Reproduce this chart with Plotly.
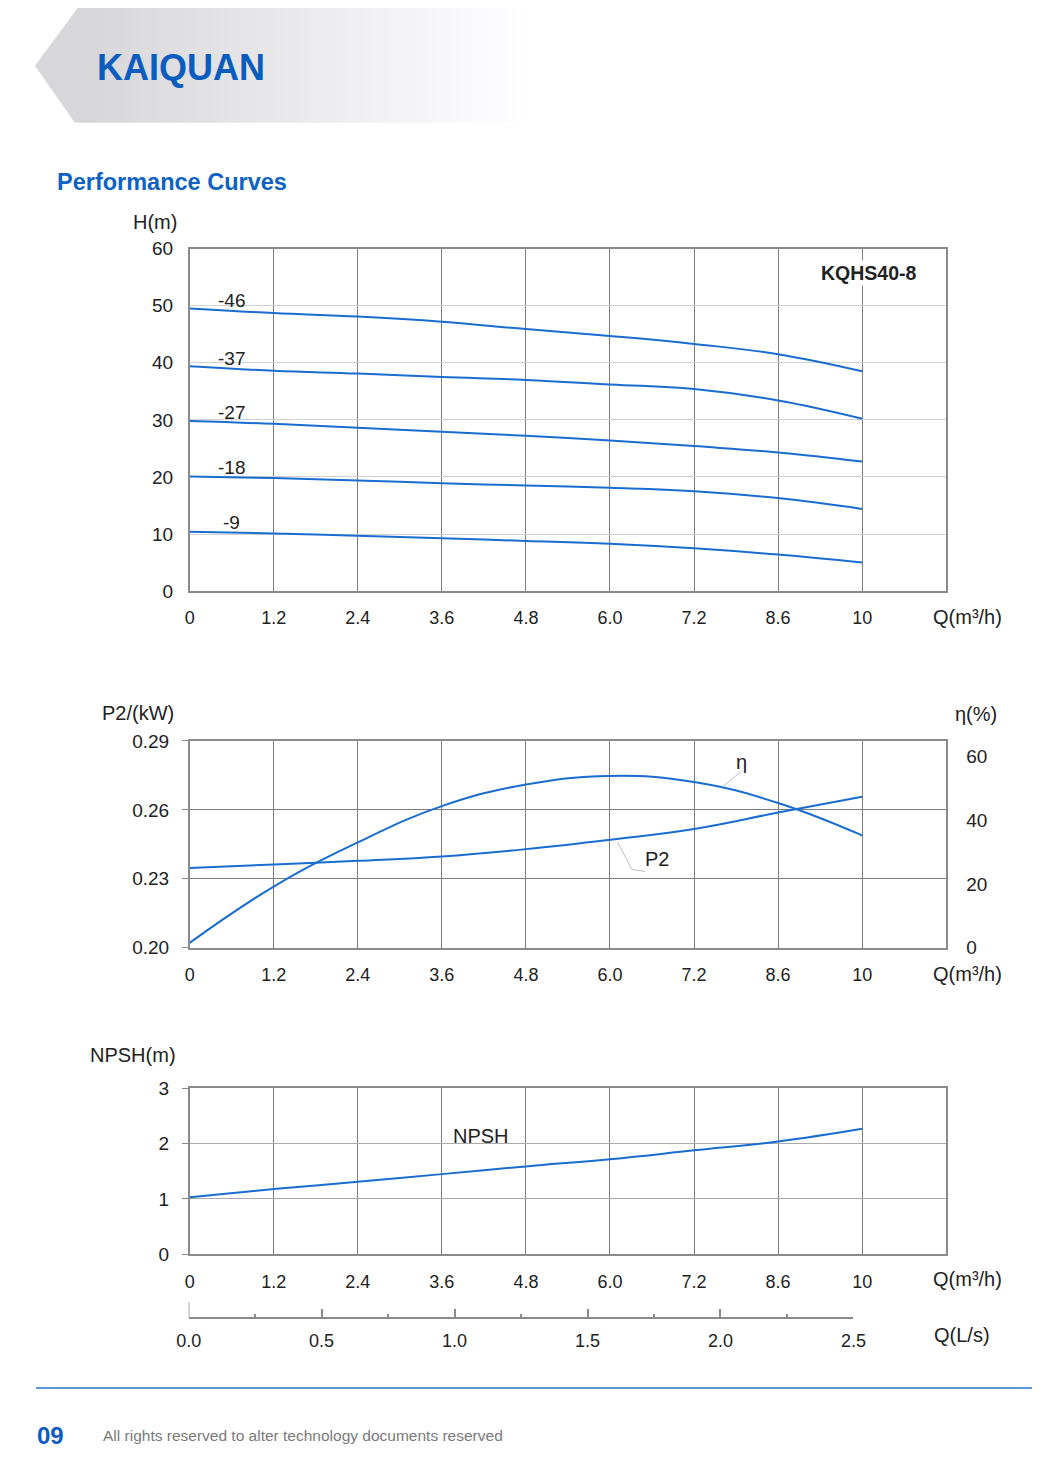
import plotly.graph_objects as go
from plotly.subplots import make_subplots

# figure size (the page body keeps its default margin)
W, H = 1045, 1467
# measured: shot pixel = offset + scale * figure pixel, so positions read off the
# sheet are mapped back through this before use
OX, SX = 20.0, 0.977
OY, SY = 17.1, 0.987

# flow grid Q (m3/h) - drawn at equal spacing on the sheet
q_labels = ["0", "1.2", "2.4", "3.6", "4.8", "6.0", "7.2", "8.6", "10"]

# H(m) curves for each impeller trim
head_names = ["-46", "-37", "-27", "-18", "-9"]
head_46 = [49.5, 48.7, 48.1, 47.2, 45.9, 44.7, 43.3, 41.5, 38.5]
head_37 = [39.4, 38.6, 38.1, 37.5, 37.0, 36.2, 35.4, 33.4, 30.2]
head_27 = [29.8, 29.3, 28.6, 27.9, 27.2, 26.4, 25.4, 24.3, 22.7]
head_18 = [20.1, 19.8, 19.4, 18.9, 18.5, 18.1, 17.5, 16.3, 14.4]
head_9 = [10.4, 10.1, 9.7, 9.25, 8.8, 8.3, 7.5, 6.4, 5.0]

# power and efficiency
p2_kw = [0.2347, 0.2362, 0.2378, 0.2397, 0.2429, 0.2470, 0.2517, 0.2588, 0.2657]
p2_ticks = [0.20, 0.23, 0.26, 0.29]
eta_pct = [1.5, 19.2, 33.1, 44.5, 51.3, 54.0, 52.1, 45.5, 35.3]
eta_ticks = [0, 20, 40, 60]

# NPSH
npsh_m = [1.03, 1.18, 1.31, 1.45, 1.59, 1.72, 1.88, 2.04, 2.27]

# second flow scale Q (L/s)
ls_ticks = [0.0, 0.5, 1.0, 1.5, 2.0, 2.5]

BLUE = "#1a6dd0"
GRID = "#7d7d7d"
FRAME = "#8a8a8a"
TXT = "#222222"
FONT = "Liberation Sans, Arial, sans-serif"


def pxx(x):
    return ((x - OX) / SX) / W


def pxy(y):
    return 1 - ((y - OY) / SY) / H


def page_text(text, x, y, size=20, color=TXT, bold=False, xanchor="center"):
    if bold:
        text = "<b>" + text + "</b>"
    return dict(text=text, x=pxx(x), y=pxy(y), xref="paper", yref="paper", showarrow=False,
                xanchor=xanchor, yanchor="middle",
                font=dict(family=FONT, size=size, color=color))


fig = make_subplots(rows=3, cols=1, specs=[[{}], [{"secondary_y": True}], [{}]])

line = dict(color=BLUE, width=2, shape="spline", smoothing=1.2)
heads = [head_46, head_37, head_27, head_18, head_9]
for name, vals in zip(head_names, heads):
    fig.add_trace(go.Scatter(x=q_labels, y=vals, mode="lines", line=line, name=name,
                             showlegend=False, hoverinfo="skip"), row=1, col=1)

fig.add_trace(go.Scatter(x=q_labels, y=p2_kw, mode="lines", line=line, name="P2",
                         showlegend=False), row=2, col=1, secondary_y=False)
fig.add_trace(go.Scatter(x=q_labels, y=eta_pct, mode="lines", line=line, name="η",
                         showlegend=False), row=2, col=1, secondary_y=True)

fig.add_trace(go.Scatter(x=q_labels, y=npsh_m, mode="lines", line=line, name="NPSH",
                         showlegend=False), row=3, col=1)

# dummy trace carrying the L/s scale
fig.add_trace(go.Scatter(x=ls_ticks, y=[0] * len(ls_ticks), xaxis="x4", yaxis="y5",
                         mode="markers", marker=dict(opacity=0), hoverinfo="skip",
                         showlegend=False))

xdom = [pxx(189), pxx(947)]
xcommon = dict(type="category", categoryorder="array", categoryarray=q_labels,
               range=[0, 9], domain=xdom, showgrid=True, gridcolor=GRID, gridwidth=1,
               showline=True, mirror=True, linecolor=FRAME, linewidth=1.5, ticks="",
               ticklabelstandoff=10, zeroline=False,
               tickfont=dict(family=FONT, size=18, color=TXT))
ycommon = dict(showline=True, mirror=True, linecolor=FRAME, linewidth=1.5, ticks="",
               ticklabelstandoff=11, zeroline=False,
               tickfont=dict(family=FONT, size=19, color=TXT))
ystub = dict(ticks="outside", ticklen=6, tickcolor=FRAME, tickwidth=1, ticklabelstandoff=9)

fig.update_layout(
    width=W, height=H,
    margin=dict(l=0, r=0, t=0, b=0),
    paper_bgcolor="white", plot_bgcolor="white",
    showlegend=False,
    xaxis=xcommon, xaxis2=xcommon, xaxis3=xcommon,
    yaxis=dict(ycommon, domain=[pxy(591), pxy(248)], range=[0, 60], dtick=10,
               gridcolor="#d2d2d2"),
    yaxis2=dict(ycommon, **ystub, domain=[pxy(948), pxy(741)], range=[0.20, 0.29],
                tickvals=p2_ticks, ticktext=[f"{v:.2f}" for v in p2_ticks], gridcolor=GRID),
    yaxis3=dict(ycommon, range=[0, 65], tickvals=eta_ticks, showgrid=False, showline=False,
                side="right", overlaying="y2", ticklabelstandoff=19),
    yaxis4=dict(ycommon, **ystub, domain=[pxy(1255), pxy(1089)], range=[0, 3], dtick=1,
                gridcolor="#ababab"),
    xaxis4=dict(domain=[pxx(188), pxx(854)], anchor="y5", range=[0, 2.5], tickvals=ls_ticks,
                ticktext=[f"{v:.1f}" for v in ls_ticks], ticks="inside", ticklen=8,
                tickwidth=1.5, tickcolor=FRAME, showline=True, linecolor=FRAME, linewidth=1.5,
                showgrid=False, zeroline=False, ticklabelstandoff=6,
                minor=dict(ticks="inside", ticklen=3, dtick=0.25, tickcolor=FRAME),
                tickfont=dict(family=FONT, size=18, color=TXT)),
    yaxis5=dict(domain=[pxy(1318), pxy(1300)], range=[0, 1], visible=False),
)

anns = []
# trim labels above each head curve
for name, vals in zip(head_names, heads):
    anns.append(dict(text=name, x=0.5, y=(vals[0] + vals[1]) / 2, xref="x", yref="y",
                     yshift=10, showarrow=False, font=dict(family=FONT, size=19, color=TXT)))
anns.append(dict(text="<b>KQHS40-8</b>", x=8.08, y=55.8, xref="x", yref="y", showarrow=False,
                 bgcolor="white", font=dict(family=FONT, size=19.5, color=TXT)))
anns.append(dict(text="η", x=6.56, y=58.3, xref="x2", yref="y3", showarrow=False,
                 font=dict(family=FONT, size=20, color=TXT)))
anns.append(dict(text="P2", x=5.56, y=0.2386, xref="x2", yref="y2", showarrow=False,
                 font=dict(family=FONT, size=20, color=TXT)))
anns.append(dict(text="NPSH", x=3.47, y=2.14, xref="x3", yref="y4", showarrow=False,
                 font=dict(family=FONT, size=20, color=TXT)))

# axis titles
anns += [
    page_text("H(m)", 154, 221),
    page_text("Q(m³/h)", 968, 617),
    page_text("P2/(kW)", 137, 713),
    page_text("η(%)", 977, 714),
    page_text("Q(m³/h)", 968, 974),
    page_text("NPSH(m)", 132, 1055),
    page_text("Q(m³/h)", 968, 1280),
    page_text("Q(L/s)", 963, 1336),
]

# page header / footer
anns += [
    page_text("KAIQUAN", 94, 67, size=36, color="#0b5cbf", bold=True, xanchor="left"),
    page_text("Performance Curves", 54, 181, size=23.5, color="#0d62c4", bold=True,
              xanchor="left"),
    page_text("09", 34, 1436, size=24, color="#0d5bbf", bold=True, xanchor="left"),
    page_text("All rights reserved to alter technology documents reserved", 100, 1436,
              size=15.5, color="#7a7a7a", xanchor="left"),
]
fig.update_layout(annotations=anns)

shapes = []
# leader lines
shapes.append(dict(type="line", xref="x2", yref="y3", x0=6.34, y0=50.6, x1=6.56, y1=55.4,
                   line=dict(color="#bdbdbd", width=1)))
shapes.append(dict(type="path", xref="x2", yref="y2",
                   path="M 5.09,0.2461 L 5.26,0.2340 L 5.42,0.2332",
                   line=dict(color="#bdbdbd", width=1)))
# longer end tick at 0.0 L/s
shapes.append(dict(type="line", xref="x4", yref="paper", x0=0, x1=0,
                   y0=pxy(1318), y1=pxy(1303), line=dict(color=FRAME, width=1.5)))

# grey header banner fading to white
shapes.append(dict(type="path", xref="paper", yref="paper", layer="below",
                   path=f"M {pxx(34)},{pxy(65)} L {pxx(82)},{pxy(0)} L {pxx(84)},{pxy(0)} "
                        f"L {pxx(84)},{pxy(122)} L {pxx(74)},{pxy(122)} Z",
                   fillcolor="rgb(215,215,218)", line=dict(width=0)))
x_left, x_right, step = 82, 530, 8
n = (x_right - x_left) // step
for i in range(n):
    t = i / (n - 1)
    c = int(215 + (255 - 215) * t)
    c2 = min(255, c + 2)
    xs0 = x_left + i * step
    shapes.append(dict(type="rect", xref="paper", yref="paper", layer="below",
                       x0=pxx(xs0), x1=pxx(xs0 + step + 1), y0=pxy(122), y1=pxy(0),
                       fillcolor=f"rgb({c},{c},{c2})", line=dict(width=0)))

# footer rule
shapes.append(dict(type="line", xref="paper", yref="paper", x0=pxx(35), x1=pxx(1033),
                   y0=pxy(1389), y1=pxy(1389), line=dict(color="#5a9ad8", width=2)))
fig.update_layout(shapes=shapes)

fig.write_html("out.html")
